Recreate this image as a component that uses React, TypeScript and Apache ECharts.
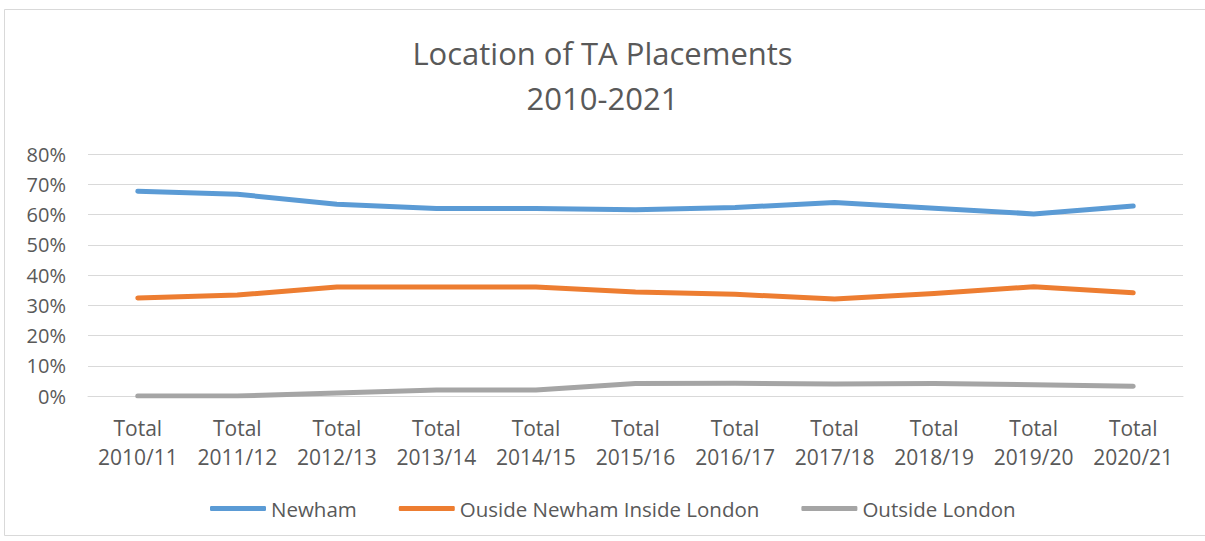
import React, { useEffect, useRef } from "react";
import * as echarts from "echarts";

const categories = [
  "Total\n2010/11", "Total\n2011/12", "Total\n2012/13", "Total\n2013/14", "Total\n2014/15",
  "Total\n2015/16", "Total\n2016/17", "Total\n2017/18", "Total\n2018/19", "Total\n2019/20", "Total\n2020/21",
];
const newham = [67.7, 66.7, 63.4, 62.0, 62.0, 61.6, 62.3, 64.0, 62.1, 60.2, 62.8];
const outsideNewhamInsideLondon = [32.4, 33.4, 36.0, 36.0, 36.0, 34.4, 33.6, 32.1, 33.9, 36.1, 34.1];
const outsideLondon = [0, 0, 1.0, 2.0, 2.0, 4.1, 4.2, 4.0, 4.1, 3.7, 3.2];
const yTicks = [0, 10, 20, 30, 40, 50, 60, 70, 80];

const FONT = "Open Sans";
const TEXT = "#595959";

export default function App() {
  const ref = useRef<HTMLDivElement>(null);
  useEffect(() => {
    if (!ref.current) return;
    const chart = echarts.init(ref.current, null, { renderer: "svg" });
    const mk = (name: string, data: number[], color: string) => ({
      name,
      type: "line",
      data,
      symbol: "none",
      smooth: false,
      lineStyle: { color, width: 5, cap: "round", join: "round" },
      itemStyle: { color },
    });
    chart.setOption({
      animation: false,
      backgroundColor: "#ffffff",
      textStyle: { fontFamily: FONT },
      title: {
        text: "Location of TA Placements\n2010-2021",
        left: "center",
        top: 25,
        textStyle: { fontFamily: FONT, fontSize: 31, fontWeight: "normal", color: TEXT, lineHeight: 45 },
      },
      graphic: [
        {
          type: "rect",
          shape: { x: 4.5, y: 9.5, width: 1210, height: 526 },
          style: { fill: "none", stroke: "#d9d9d9", lineWidth: 1 },
          silent: true,
        },
      ],
      grid: { left: 88, right: 22, top: 154, bottom: 145, containLabel: false },
      xAxis: {
        type: "category",
        data: categories,
        boundaryGap: true,
        axisLine: { show: true, lineStyle: { color: "#d9d9d9", width: 1 } },
        axisTick: { show: false },
        axisLabel: { color: TEXT, fontFamily: FONT, fontSize: 21, lineHeight: 29, margin: 17, interval: 0 },
      },
      yAxis: {
        type: "value",
        min: yTicks[0],
        max: yTicks[yTicks.length - 1],
        interval: 10,
        axisLine: { show: false },
        axisTick: { show: false },
        axisLabel: { color: TEXT, fontFamily: FONT, fontSize: 20, margin: 22, formatter: "{value}%" },
        splitLine: { lineStyle: { color: "#d9d9d9", width: 1 } },
      },
      legend: {
        bottom: 17,
        left: 205,
        itemWidth: 56,
        itemHeight: 5,
        itemGap: 42,
        icon: "roundRect",
        textStyle: { color: TEXT, fontFamily: FONT, fontSize: 20.5 },
        data: ["Newham", "Ouside Newham Inside London", "Outside London"],
      },
      series: [
        mk("Newham", newham, "#5B9BD5"),
        mk("Ouside Newham Inside London", outsideNewhamInsideLondon, "#ED7D31"),
        mk("Outside London", outsideLondon, "#A5A5A5"),
      ],
    });
    return () => chart.dispose();
  }, []);
  return (
    <div
      ref={ref}
      style={{ position: "absolute", left: 0, top: 0, width: 1205, height: 541 }}
    />
  );
}
